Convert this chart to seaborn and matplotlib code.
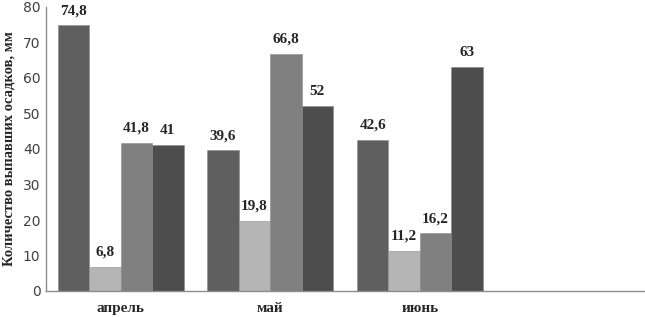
import pandas as pd
import matplotlib
matplotlib.use('Agg')
import matplotlib.pyplot as plt
import seaborn as sns

# --- data ---
months = ['апрель', 'май', 'июнь']
series = ['s1', 's2', 's3', 's4']
s1 = [74.8, 39.6, 42.6]
s2 = [6.8, 19.8, 11.2]
s3 = [41.8, 66.8, 16.2]
s4 = [41, 52, 63]
colors = ['#5f5f5f', '#b5b5b5', '#808080', '#4d4d4d']

rows = []
for name, vals in zip(series, [s1, s2, s3, s4]):
    for m, v in zip(months, vals):
        rows.append({'month': m, 'series': name, 'value': v})
df = pd.DataFrame(rows)

sns.set_style('white')
plt.rcParams['font.family'] = ['DejaVu Sans']

fig = plt.figure(figsize=(6.45, 3.17), dpi=100)
ax = fig.add_axes([46 / 645, 26 / 317, 598 / 645, 284 / 317])

order = months + [' ']  # empty fourth slot, as in the original
sns.barplot(data=df, x='month', y='value', hue='series', order=order,
            hue_order=series, palette=colors, width=0.84, saturation=1,
            edgecolor='#8a8a8a', linewidth=0.4, legend=False, ax=ax)

# value labels with comma decimals
for cont in ax.containers:
    labels = []
    for bar in cont:
        v = bar.get_height()
        txt = ('%g' % v).replace('.', ',')
        labels.append(txt)
    ax.bar_label(cont, labels=labels, padding=6, fontsize=11,
                 fontweight='bold', family='Liberation Serif')

ax.set_xlim(-0.5, 3.5)
ax.set_ylim(0, 80)
ax.set_yticks(range(0, 81, 10))
ax.tick_params(axis='y', labelsize=10, length=0, pad=4, colors='#404040')
ax.tick_params(axis='x', length=0, pad=8)
for lbl in ax.get_xticklabels():
    lbl.set_family('Liberation Serif')
    lbl.set_fontweight('bold')
    lbl.set_fontsize(11)

ax.set_xlabel('')
ax.set_ylabel('Количество выпавших осадков, мм', family='Liberation Serif',
              fontweight='bold', fontsize=10.5, labelpad=5)

for side in ['top', 'right']:
    ax.spines[side].set_visible(False)
for side in ['left', 'bottom']:
    ax.spines[side].set_color('#8c8c8c')
    ax.spines[side].set_linewidth(1)

fig.savefig('out.png', dpi=100)
